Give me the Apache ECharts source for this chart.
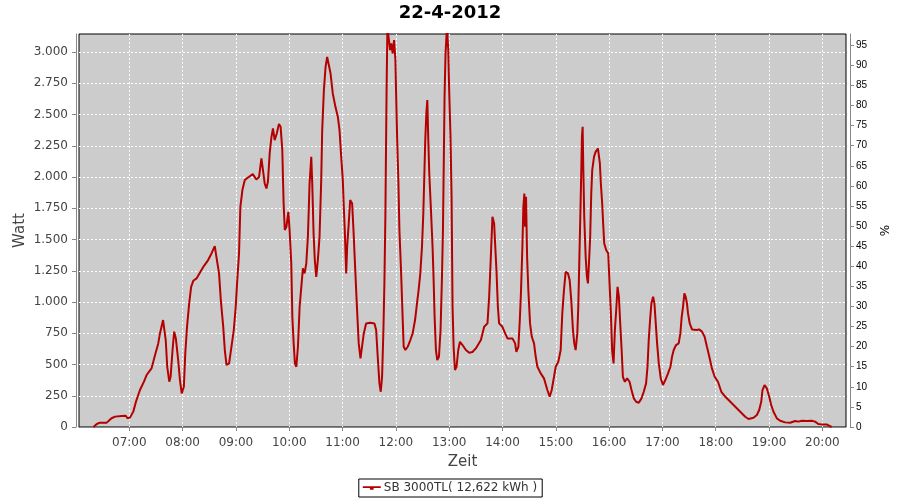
<!DOCTYPE html>
<html>
<head>
<meta charset="utf-8">
<script src="https://cdn.jsdelivr.net/npm/echarts@6/dist/echarts.min.js"></script>
<style>
html,body{margin:0;padding:0;background:#fff;}
#c{width:900px;height:500px;}
</style>
</head>
<body>
<div id="c"></div>
<script>
// Minutes since midnight (22-4-2012)
const minutes = [379.6,383.4,387,394.6,400,404,411.5,416,418,420.8,424.5,427.5,432,436.5,439.5,445,449,452.6,454.5,458,459.5,461,462.7,465,466.5,468.7,470.5,472.4,475,477,479,481.4,483,485,487.4,489.6,492,495.7,499.4,503.9,508.7,512.5,516.2,518,521,523,525.7,527.5,529.4,532.3,535,537.6,539.8,541.3,543.5,545,547.3,550,553.6,559,563,566,568.7,570,572.4,574.3,576,578,580,581.7,583.6,586,588.4,590.3,592.2,593,593.7,595,596.8,599,600.4,602.3,603.5,605,606.4,608,609.8,611.7,613.6,615.4,617.3,619.2,621,622.9,624.8,625.9,627.4,628.8,630.4,632.2,634.1,636,637.1,639,640.9,642.7,644.6,646.5,649,652,654.7,656.6,658.5,660.3,661.4,662.5,664.1,665.2,666.7,668.6,670.8,672.3,673.8,676,678.2,680.2,682,683.9,686.5,691,695.9,697.8,699.6,701.5,703,704.5,706,707.1,708.2,708.9,709.6,710.5,712.5,713.5,714.9,716.4,718,719.5,720.2,721.4,722.8,724,725.8,727.6,728.8,730.7,733.3,736.3,738.9,741.6,743.8,745.6,747.5,749.4,750.9,752,753.1,754.3,755.4,756.5,757.6,759.5,761.3,762.4,763.6,765.1,766.6,768.5,770.3,771.9,773,773.7,774.8,775.9,777.5,779,780,781.5,782.7,783.8,785,786.5,788.3,790.2,792.1,795,798.8,802.5,806.2,810,815.7,819.4,823.1,825,826.9,828.7,830.6,831.7,833.2,834.8,836.2,839.9,843,845.6,851.2,854.2,855.6,857.9,859.5,860.9,862.4,863.5,864.6,865.4,866.5,867.7,869.1,871,873,875.5,877.4,879.3,883,886.7,890.5,893.1,895.4,898,899.9,902.8,905.5,907.3,909.2,911.1,913.7,915.6,917.4,919.3,920.8,922.3,924.2,925.3,926.4,927.6,928.7,929.4,930.2,931,932,933.6,935,936.2,937.3,938.7,939.9,941,943,944.8,947.4,948.5,949.6,950.7,952.2,953.3,954.5,956.7,959,960.5,962,963.4,965,966.5,968,969.5,971,972.5,974.1,975.5,977.7,980.3,983,985.2,987.8,990.4,993.4,996.4,999,1001.6,1003.2,1004.6,1006.1,1007.6,1009.5,1011,1012.5,1014,1015.9,1018.1,1020.6,1023.3,1026.3,1029,1030.8,1032.7,1035.3,1038.3,1040.2,1041.7,1043.2,1044.7,1046.2,1047.6,1048.8,1050.7,1053.3,1058.9,1061.2,1064.5,1067.5,1070.1,1072.8,1075.7,1078.8,1082.5,1086.3,1090.8,1096.4,1102,1107.6,1113.2,1116.9,1122.5,1126.3,1128.9,1131.2,1132.6,1134.9,1137.5,1140.2,1142.4,1145,1148.8,1152.5,1158.1,1163.7,1169.4,1173,1176.8,1182.4,1188,1191.8,1195.5,1199.2,1204.8,1207.5,1210.4];
// Power in Watt
const watt = [0,24,35,35,70,83,88,90,70,75,123,203,296,363,416,469,576,669,749,856,850,696,482,363,403,616,763,709,536,376,269,323,589,803,989,1122,1170,1189,1234,1288,1336,1389,1448,1363,1229,1016,803,616,496,509,643,776,963,1150,1389,1762,1896,1976,1997,2024,1981,2000,2150,2141,1949,1909,1962,2189,2322,2389,2296,2349,2424,2402,2216,1976,1789,1576,1602,1722,1576,1309,882,669,509,482,642,962,1122,1269,1229,1309,1522,1949,2162,1949,1549,1336,1202,1336,1522,1976,2376,2696,2882,2962,2962,2829,2669,2562,2482,2376,2162,1976,1762,1576,1229,1442,1602,1816,1789,1576,1336,989,669,549,549,749,829,834,829,776,562,349,282,402,776,1149,1682,2216,2722,3200,3200,3016,3069,2989,3096,2936,2696,2322,1976,1576,1256,882,642,616,642,696,749,856,989,1096,1229,1442,1709,2002,2296,2509,2616,2296,2029,1736,1442,1202,882,616,536,562,776,1202,1576,1976,2642,2989,3200,3016,2696,2322,1842,962,642,456,482,616,682,656,616,594,600,629,696,802,829,1042,1362,1682,1629,1469,1256,962,829,802,749,709,709,669,602,642,856,1096,1442,1762,1869,1602,1842,1362,1096,829,722,669,562,482,429,389,296,242,296,402,482,522,616,909,1096,1242,1229,1176,1016,776,669,616,749,962,1309,1682,2056,2322,2402,2056,1682,1362,1202,1149,1309,1522,1869,2056,2162,2202,2229,2216,2109,1949,1789,1629,1469,1416,1389,1149,909,616,509,776,936,1122,1042,829,616,402,362,389,362,296,229,202,194,229,282,349,482,696,856,989,1042,989,829,669,509,389,336,376,429,482,562,616,656,669,749,882,962,1069,1042,989,909,829,781,776,781,763,722,642,562,469,402,362,282,242,202,162,122,82,64,74,96,136,202,296,336,309,242,176,122,69,50,37,34,48,43,50,48,50,43,24,21,21,11,0];

const titleText = '22-4-2012';
const seriesName = 'SB 3000TL( 12,622 kWh )';
const leftAxisName = 'Watt';
const rightAxisName = '%';
const xAxisName = 'Zeit';

const base = new Date(2012, 3, 22, 0, 0, 0).getTime();
const toTs = m => base + m * 60000;
const pts = minutes.map((m, i) => [toTs(m), watt[i]]);
const pad = n => (n < 10 ? '0' : '') + n;

const chart = echarts.init(document.getElementById('c'), null, {renderer: 'canvas'});
chart.setOption({
  backgroundColor: '#ffffff',
  animation: false,
  title: {
    text: titleText, left: 'center', top: -1,
    textStyle: {fontFamily: 'DejaVu Sans', fontWeight: 'bold', fontSize: 18, color: '#000'}
  },
  legend: {
    bottom: 3, left: 'center',
    data: [{name: seriesName, icon: 'path://M0,3 L20,3 L20,5 L0,5 Z M8,5 L12,5 L12,7 L8,7 Z'}],
    itemWidth: 18, itemHeight: 5, itemGap: 4,
    padding: [3, 5, 3, 4],
    borderColor: '#000', borderWidth: 1, backgroundColor: '#fff',
    textStyle: {fontFamily: 'DejaVu Sans', fontSize: 12, color: '#333', padding: [0, 0, 0, -2]}
  },
  grid: {
    left: 79, right: 52, top: 34, bottom: 73,
    show: true, backgroundColor: '#cccccc', borderColor: '#000', borderWidth: 1
  },
  xAxis: {
    type: 'time',
    min: toTs(363.4), max: toTs(1226.6),
    minInterval: 3600000, maxInterval: 3600000,
    offset: 4,
    name: xAxisName, nameLocation: 'middle', nameGap: 24, nameMoveOverlap: false,
    nameTextStyle: {fontFamily: 'DejaVu Sans', fontSize: 15, color: '#444'},
    axisLine: {show: true, lineStyle: {color: '#888', width: 1}},
    axisTick: {show: true, length: 4, lineStyle: {color: '#888'}},
    axisLabel: {
      fontFamily: 'DejaVu Sans', fontSize: 12, color: '#444', margin: 6,
      showMinLabel: false, showMaxLabel: false,
      formatter: v => { const d = new Date(v); return pad(d.getHours()) + ':' + pad(d.getMinutes()); }
    },
    splitLine: {show: true, showMinLine: false, showMaxLine: false, lineStyle: {color: '#ffffff', type: [2, 2], width: 1}}
  },
  yAxis: [{
    type: 'value', position: 'left',
    min: 0, max: 3145, interval: 250,
    offset: 3,
    name: leftAxisName, nameLocation: 'middle', nameGap: 48, nameRotate: 90, nameMoveOverlap: false,
    nameTextStyle: {fontFamily: 'DejaVu Sans', fontSize: 15, color: '#444'},
    axisLine: {show: true, lineStyle: {color: '#888', width: 1}},
    axisTick: {show: true, length: 4, lineStyle: {color: '#888'}},
    axisLabel: {
      fontFamily: 'DejaVu Sans', fontSize: 12, color: '#444', margin: 8, showMaxLabel: false,
      formatter: v => v >= 1000 ? Math.floor(v / 1000) + '.' + String(v % 1000).padStart(3, '0') : String(v)
    },
    splitLine: {show: true, showMinLine: false, showMaxLine: false, lineStyle: {color: '#ffffff', type: [2, 2], width: 1}}
  }, {
    type: 'value', position: 'right',
    min: 0, max: 97.8, interval: 5,
    offset: 4,
    name: rightAxisName, nameLocation: 'middle', nameGap: 30, nameRotate: 90, nameMoveOverlap: false,
    nameTextStyle: {fontFamily: 'DejaVu Sans', fontSize: 12, color: '#000'},
    axisLine: {show: true, lineStyle: {color: '#888', width: 1}},
    axisTick: {show: true, length: 4, lineStyle: {color: '#888'}},
    axisLabel: {fontFamily: 'Liberation Sans', fontSize: 10, color: '#000', margin: 6, showMaxLabel: false},
    splitLine: {show: false}
  }],
  series: [{
    name: seriesName, type: 'line', yAxisIndex: 0,
    data: pts, showSymbol: false, symbol: 'none', clip: true,
    lineStyle: {color: '#b40000', width: 2},
    itemStyle: {color: '#b40000'}
  }, {
    type: 'line', yAxisIndex: 1, data: [], silent: true
  }]
});
</script>
</body>
</html>
